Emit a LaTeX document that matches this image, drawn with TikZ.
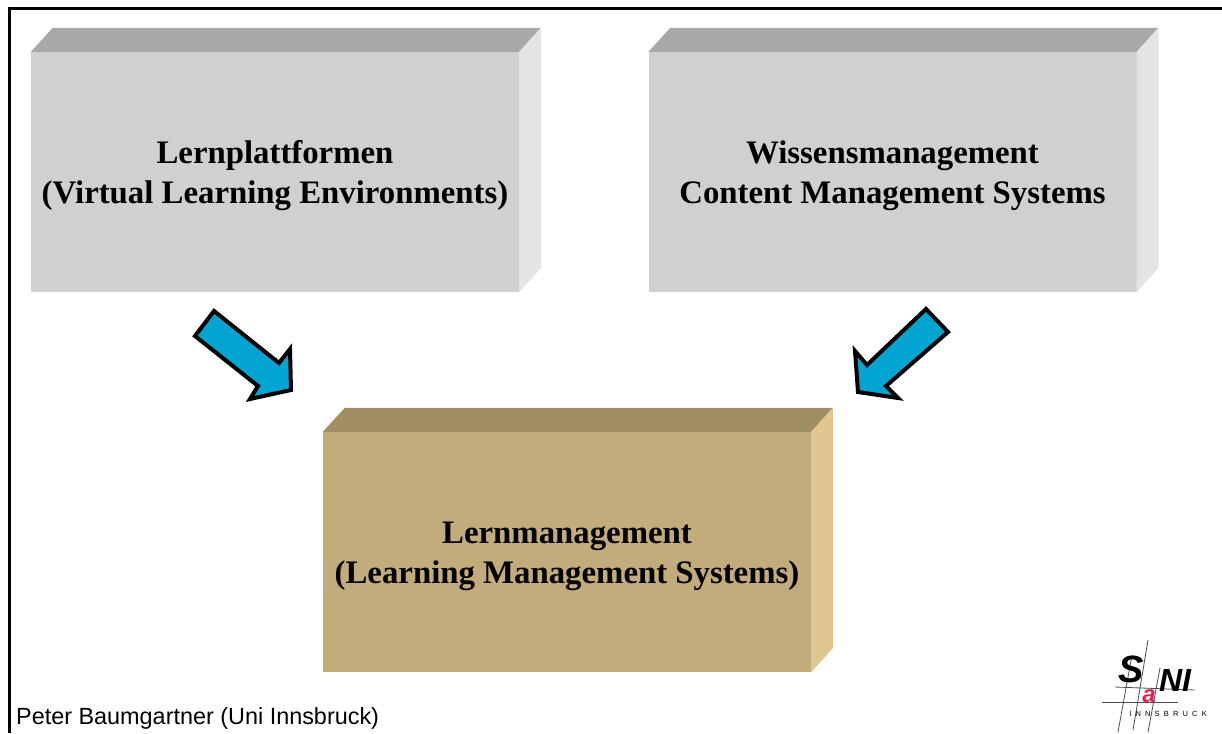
\documentclass[tikz,border=0pt]{standalone}
\usepackage{fontspec}
\setmainfont{Liberation Serif}
\setsansfont{Liberation Sans}
\usetikzlibrary{positioning}
\definecolor{greyfront}{HTML}{D0D0D0}
\definecolor{greytop}{HTML}{A8A8A8}
\definecolor{greyside}{HTML}{E4E4E4}
\definecolor{sandfront}{HTML}{C3AC7B}
\definecolor{sandtop}{HTML}{A08F62}
\definecolor{sandside}{HTML}{E0C78F}
\definecolor{arrowblue}{HTML}{00A5D2}
\definecolor{logored}{HTML}{E8204F}
\newcommand{\blocktext}[2]{\rule{0pt}{31pt}#1\\#2}

\begin{document}
\begin{tikzpicture}[x=1pt,y=-1pt,
  blocknode/.style = {minimum width=488pt, minimum height=240pt, inner sep=0pt, align=center,
    font=\fontsize{32.8}{40}\selectfont\bfseries},
  bigarrow/.style = {fill=arrowblue, draw=black, line width=4pt, line join=miter},
  logoline/.style = {draw=black!70, line width=0.8pt}]
  \useasboundingbox (0,0) rectangle (1222,733);
  \draw[line width=3pt] (9,733) -- (9,8.5) -- (1222,8.5);

  % blocks
  \node[blocknode, fill=greyfront] (lern) at (275,172) {\blocktext{Lernplattformen}{(Virtual Learning Environments)}};
  \fill[greytop] (lern.north west) -- ++(22,-24) -- ++(488,0) -- (lern.north east) -- cycle;
  \fill[greyside] (lern.north east) -- ++(22,-24) -- ++(0,240) -- (lern.south east) -- cycle;

  \node[blocknode, fill=greyfront] (wissen) at (892.5,172) {\blocktext{Wissensmanagement}{Content Management Systems}};
  \fill[greytop] (wissen.north west) -- ++(22,-24) -- ++(488,0) -- (wissen.north east) -- cycle;
  \fill[greyside] (wissen.north east) -- ++(22,-24) -- ++(0,240) -- (wissen.south east) -- cycle;

  \node[blocknode, fill=sandfront] (lms) at (567,552) {\blocktext{Lernmanagement}{(Learning Management Systems)}};
  \fill[sandtop] (lms.north west) -- ++(22,-24) -- ++(488,0) -- (lms.north east) -- cycle;
  \fill[sandside] (lms.north east) -- ++(22,-24) -- ++(0,240) -- (lms.south east) -- cycle;

  % arrows
  \draw[bigarrow] (214,311) -- (279,363) -- (290,349) -- (291,390) -- (250,399) -- (258,386) -- (195,336) -- cycle;
  \draw[bigarrow] (926,309) -- (867,365) -- (855,351) -- (858,392) -- (898,398) -- (886,386) -- (948,332) -- cycle;

  % footer
  \node[font=\sffamily\fontsize{23.4}{26}\selectfont, anchor=base west, inner sep=0pt] (autor) at (16,724) {Peter Baumgartner (Uni Innsbruck)};

  % logo
  \draw[logoline] (1148,640) -- (1133,730);
  \draw[logoline] (1132,655) -- (1118,732);
  \draw[logoline] (1160,668) -- (1148,732);
  \draw[logoline] (1115,687) -- (1195,690);
  \draw[logoline] (1102,702) -- (1178,702);
  \node[font=\sffamily\bfseries\itshape\fontsize{38}{38}\selectfont, inner sep=0pt] (logoS) at (1131,669) {S};
  \node[font=\sffamily\bfseries\itshape\fontsize{24}{24}\selectfont, text=logored, inner sep=0pt] (logoA) at (1149,696) {a};
  \node[font=\sffamily\bfseries\itshape\fontsize{32}{32}\selectfont, inner sep=0pt] (logoN) at (1175,680) {NI};
  \node[font=\sffamily\fontsize{7.5}{8}\selectfont, inner sep=0pt] (logoText) at (1168,714) {I\;\;N\;\;N\;\;S\;\;B\;\;R\;\;U\;\;C\;\;K};
\end{tikzpicture}
\end{document}
